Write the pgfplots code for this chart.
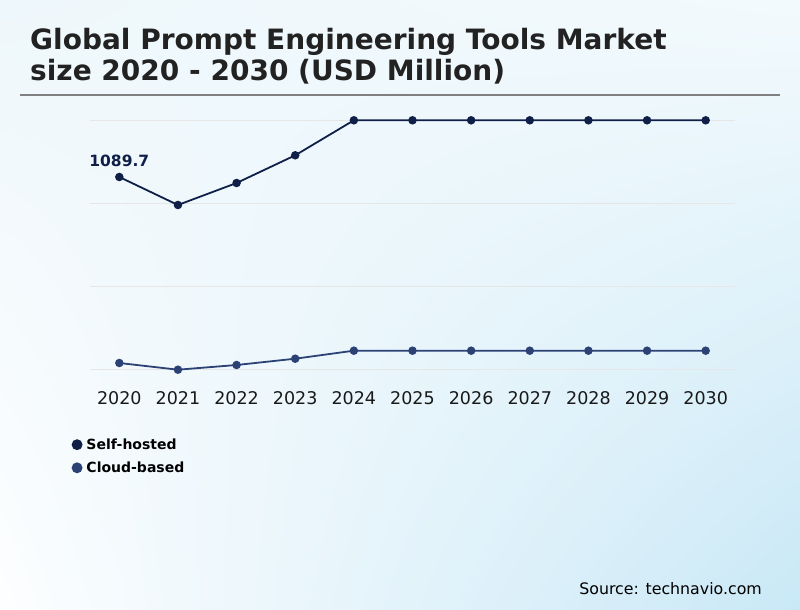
\documentclass[border=0pt]{standalone}
\usepackage{pgfplots}
\pgfplotsset{compat=1.18}
\usetikzlibrary{shadings}
\usepackage{fontspec}
\setmainfont{DejaVu Sans}

\definecolor{selfc}{HTML}{0F1F48}
\definecolor{cloudc}{HTML}{2C4275}
\definecolor{gridc}{HTML}{E6E6E6}
\definecolor{titlec}{HTML}{222222}
\definecolor{rulec}{HTML}{808080}
\definecolor{bgUL}{HTML}{EEF7FB}
\definecolor{bgUR}{HTML}{F3FAFD}
\definecolor{bgLL}{HTML}{FDFEFF}
\definecolor{bgLR}{HTML}{C9E8F6}

\begin{document}
\begin{tikzpicture}[x=1pt,y=1pt]
% background
\shade[upper left=bgUL, upper right=bgUR, lower left=bgLL, lower right=bgLR] (0,0) rectangle (800,610);

% title
\node[anchor=base west, inner sep=0, text=titlec, font=\fontsize{28}{32}\selectfont\bfseries] at (30,560) {Global Prompt Engineering Tools Market};
\node[anchor=base west, inner sep=0, text=titlec, font=\fontsize{28}{32}\selectfont\bfseries] at (30,529) {size 2020 - 2030 (USD Million)};
\draw[rulec, line width=2pt] (20,515) -- (780,515);

\begin{axis}[
at={(90pt,240pt)}, anchor=south west,
scale only axis,
width=645pt, height=249.7pt,
xmin=2019.5, xmax=2030.5,
ymin=0, ymax=1409.8,
clip=false,
axis line style={draw=none},
major tick length=0pt,
xtick={2020,2021,...,2030},
ytick={0,469.9,939.9,1409.8},
yticklabels={{},{},{},{}},
ymajorgrids,
grid style={gridc, line width=1pt},
/pgf/number format/1000 sep={},
/pgf/number format/assume math mode=true,
xticklabel style={font=\fontsize{17.5}{20}\selectfont, text=black!90, anchor=base, yshift=-35pt},
legend style={at={(axis description cs:-0.0287,-0.266)}, anchor=north west,
  draw=none, fill=none, inner sep=0pt, row sep=7pt,
  font=\fontsize{14}{16}\selectfont\bfseries,
  nodes={inner xsep=4pt}},
legend cell align=left,
legend image code/.code={\fill[#1] (0pt,0pt) circle (4.5pt);},
]

\addplot[selfc, line width=1.8pt, mark=*, mark size=3.3pt] coordinates {
(2020,1089.7) (2021,931.6) (2022,1055.8) (2023,1212.2) (2024,1409.8)
(2025,1409.8) (2026,1409.8) (2027,1409.8) (2028,1409.8) (2029,1409.8) (2030,1409.8)
};
\addlegendentry{Self-hosted}

\addplot[cloudc, line width=1.8pt, mark=*, mark size=3.3pt] coordinates {
(2020,39.5) (2021,1.7) (2022,28.2) (2023,63.8) (2024,109.0)
(2025,109.0) (2026,109.0) (2027,109.0) (2028,109.0) (2029,109.0) (2030,109.0)
};
\addlegendentry{Cloud-based}

\node[anchor=base, yshift=10pt, text=selfc, font=\fontsize{15.5}{18}\selectfont\bfseries] at (axis cs:2020,1089.7) {1089.7};
\end{axis}

% source
\node[anchor=base east, inner sep=0, font=\fontsize{15.8}{18}\selectfont] at (762,15) {Source: technavio.com};
\end{tikzpicture}
\end{document}
